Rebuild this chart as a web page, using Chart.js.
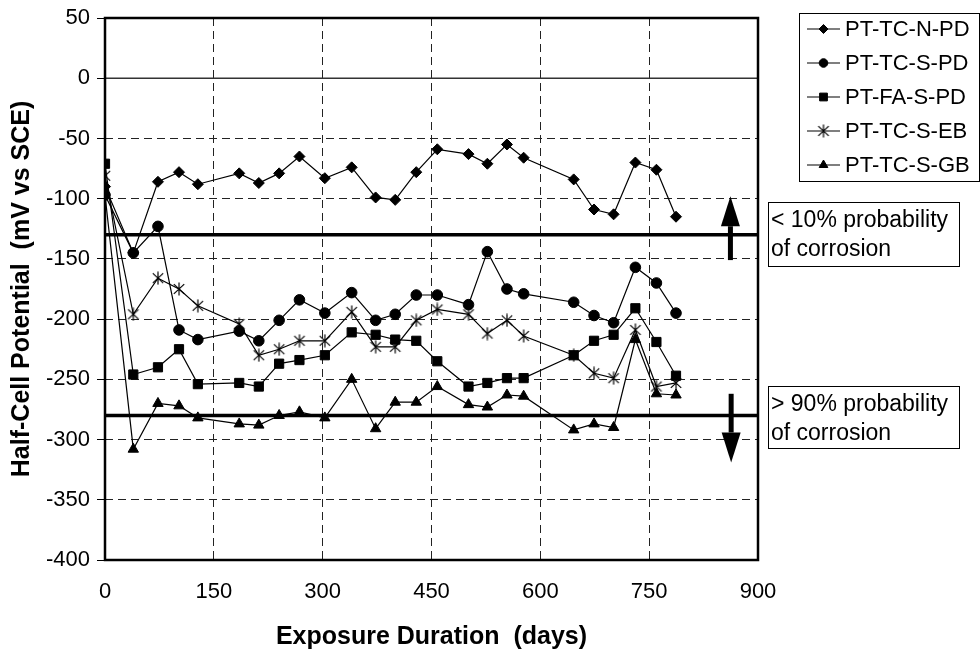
<!DOCTYPE html>
<html>
<head>
<meta charset="utf-8">
<script src="https://cdn.jsdelivr.net/npm/chart.js@4.4.1/dist/chart.umd.min.js"></script>
<style>
  html, body { margin: 0; padding: 0; background: #fff; }
  #wrap { width: 980px; height: 658px; }
</style>
</head>
<body>
<div id="wrap"><canvas id="potentialChart" width="980" height="658"></canvas></div>
<script>
// exposure duration (days) at each reading
const days = [0, 39, 73, 102, 128, 185, 212, 240, 268, 303, 340, 373, 400, 429, 458, 501, 527, 554, 577, 646, 674, 701, 731, 760, 787];

// half-cell potential (mV vs SCE) per specimen
const tcNPD = [-90, -145, -86, -78, -88, -79, -87, -79, -65, -83, -74, -99, -101, -78, -59, -63, -71, -55, -66, -84, -109, -113, -70, -76, -115];
const tcSPD = [-97, -145, -123, -209, -217, -210, -218, -201, -184, -195, -178, -201, -196, -180, -180, -188, -144, -175, -179, -186, -197, -203, -157, -170, -195];
const faSPD = [-71, -246, -240, -225, -254, -253, -256, -237, -234, -230, -211, -213, -217, -218, -235, -256, -253, -249, -249, -230, -218, -213, -191, -219, -247];
const tcSEB = [-81, -196, -166, -175, -189, -204, -230, -225, -218, -218, -194, -223, -223, -201, -192, -196, -212, -201, -214, -230, -245, -249, -209, -256, -253];
const tcSGB = [-97, -308, -270, -272, -282, -287, -288, -280, -277, -282, -250, -291, -269, -269, -256, -271, -273, -263, -264, -292, -287, -290, -217, -262, -263];

const seriesNames = ["PT-TC-N-PD", "PT-TC-S-PD", "PT-FA-S-PD", "PT-TC-S-EB", "PT-TC-S-GB"];

// corrosion probability thresholds (ASTM C876, SCE)
const lowRisk = -130;
const highRisk = -280;

const xTicks = [0, 150, 300, 450, 600, 750, 900];
const yTicks = [50, 0, -50, -100, -150, -200, -250, -300, -350, -400];

const FONT = "'Liberation Sans', Arial, sans-serif";
Chart.defaults.font.family = FONT;
Chart.defaults.color = "#000";

// Excel-style asterisk marker (x with a vertical bar)
function makeAsterisk(size) {
  const c = document.createElement("canvas");
  c.width = size;
  c.height = size;
  const g = c.getContext("2d");
  const m = size / 2, r = size / 2 - 0.5;
  g.strokeStyle = "#000";
  g.lineWidth = 1.2;
  g.beginPath();
  g.moveTo(m, m - r); g.lineTo(m, m + r);
  g.moveTo(m - r * 0.8, m - r * 0.75); g.lineTo(m + r * 0.8, m + r * 0.75);
  g.moveTo(m - r * 0.8, m + r * 0.75); g.lineTo(m + r * 0.8, m - r * 0.75);
  g.stroke();
  return c;
}
const asterisk = makeAsterisk(14);

const markers = [
  { style: "rectRot", radius: 5.5 },
  { style: "circle", radius: 5.3 },
  { style: "rect", radius: 6.5 },
  { style: asterisk, radius: 7 },
  { style: "triangle", radius: 6 },
];

const toPoints = (vals) => days.map((d, i) => ({ x: d, y: vals[i] }));
const allValues = [tcNPD, tcSPD, faSPD, tcSEB, tcSGB];

const datasets = allValues.map((vals, i) => ({
  label: seriesNames[i],
  data: toPoints(vals),
  showLine: true,
  borderColor: "#000",
  borderWidth: 1.2,
  backgroundColor: "#000",
  pointStyle: markers[i].style,
  pointRadius: markers[i].radius,
  pointBorderWidth: 1,
  pointBorderColor: "#000",
  pointBackgroundColor: "#000",
  tension: 0,
}));

// frame, zero line and threshold lines
const framePlugin = {
  id: "frame",
  beforeDatasetsDraw(chart) {
    const { ctx, chartArea: a, scales } = chart;
    const y = scales.y;
    ctx.save();
    ctx.strokeStyle = "#333";
    ctx.lineWidth = 1.5;
    ctx.beginPath();
    ctx.moveTo(a.left, y.getPixelForValue(0));
    ctx.lineTo(a.right, y.getPixelForValue(0));
    ctx.stroke();

    ctx.strokeStyle = "#000";
    ctx.lineWidth = 3.5;
    [lowRisk, highRisk].forEach((v) => {
      const py = y.getPixelForValue(v);
      ctx.beginPath();
      ctx.moveTo(a.left, py);
      ctx.lineTo(a.right, py);
      ctx.stroke();
    });

    ctx.lineWidth = 2.5;
    ctx.strokeRect(a.left, a.top, a.right - a.left, a.bottom - a.top);
    ctx.restore();
  },
};

// arrows, annotation boxes and legend
const arrows = [
  { x: 862, from: -151, to: -98 },
  { x: 863, from: -262, to: -319 },
];
const notes = [
  { lines: ["< 10% probability", "of corrosion"], box: [768, 202, 191, 64] },
  { lines: ["> 90% probability", "of corrosion"], box: [768, 386, 191, 62] },
];

const decorPlugin = {
  id: "decor",
  afterDraw(chart) {
    const { ctx, scales } = chart;
    ctx.save();
    ctx.fillStyle = "#000";
    ctx.strokeStyle = "#000";

    arrows.forEach((ar) => {
      const px = scales.x.getPixelForValue(ar.x);
      const y0 = scales.y.getPixelForValue(ar.from);
      const y1 = scales.y.getPixelForValue(ar.to);
      const dir = y1 < y0 ? 1 : -1;
      const head = 30;
      ctx.lineWidth = 5;
      ctx.beginPath();
      ctx.moveTo(px, y0);
      ctx.lineTo(px, y1 + dir * head);
      ctx.stroke();
      ctx.beginPath();
      ctx.moveTo(px, y1);
      ctx.lineTo(px - 9.5, y1 + dir * head);
      ctx.lineTo(px + 9.5, y1 + dir * head);
      ctx.closePath();
      ctx.fill();
    });

    ctx.font = "23px " + FONT;
    ctx.textBaseline = "middle";
    ctx.textAlign = "left";
    ctx.lineWidth = 1;
    notes.forEach((n) => {
      const [bx, by, bw, bh] = n.box;
      ctx.strokeRect(bx + 0.5, by + 0.5, bw, bh);
      n.lines.forEach((t, i) => ctx.fillText(t, bx + 3, by + 19 + i * 29));
    });

    // legend
    ctx.font = "22px " + FONT;
    ctx.strokeRect(799.5, 13.5, 180, 168);
    chart.data.datasets.forEach((ds, i) => {
      const ly = 29 + i * 34;
      ctx.lineWidth = 1.2;
      ctx.beginPath();
      ctx.moveTo(807, ly);
      ctx.lineTo(840, ly);
      ctx.stroke();
      ctx.lineWidth = 1;
      Chart.helpers.drawPoint(ctx, {
        pointStyle: ds.pointStyle,
        radius: ds.pointRadius - 1,
        rotation: 0,
        borderWidth: 1,
      }, 823.5, ly);
      ctx.fillStyle = "#000";
      ctx.fillText(ds.label, 845, ly + 1);
    });
    ctx.restore();
  },
};

new Chart(document.getElementById("potentialChart"), {
  type: "scatter",
  data: { datasets: datasets },
  plugins: [framePlugin, decorPlugin],
  options: {
    responsive: false,
    animation: false,
    layout: { padding: { left: 0, right: 222, top: 17, bottom: 0 } },
    plugins: {
      legend: { display: false },
      tooltip: { enabled: false },
    },
    scales: {
      x: {
        type: "linear",
        min: 0,
        max: 900,
        afterBuildTicks: (s) => { s.ticks = xTicks.map((v) => ({ value: v })); },
        ticks: { font: { size: 22 }, padding: 19, color: "#000" },
        grid: {
          color: (c) => (c.tick && (c.tick.value === 0 || c.tick.value === 900) ? "rgba(0,0,0,0)" : "#222"),
          lineWidth: 1,
          drawTicks: false,
        },
        border: { display: false, dash: [8, 5] },
        title: {
          display: true,
          text: "Exposure Duration  (days)",
          font: { size: 25, weight: "bold" },
          color: "#000",
          padding: { top: 0, bottom: 6 },
        },
        afterFit: (s) => { s.height = 98; },
      },
      y: {
        type: "linear",
        min: -400,
        max: 50,
        afterBuildTicks: (s) => { s.ticks = yTicks.map((v) => ({ value: v })); },
        ticks: { font: { size: 22, lineHeight: 1 }, padding: 7, color: "#000" },
        grid: {
          color: (c) => (c.tick && (c.tick.value === 0 || c.tick.value === 50 || c.tick.value === -400) ? "rgba(0,0,0,0)" : "#222"),
          tickColor: "#000",
          tickLength: 8,
          lineWidth: 1,
        },
        border: { display: false, dash: [8, 5] },
        title: {
          display: true,
          text: "Half-Cell Potential  (mV vs SCE)",
          font: { size: 25, weight: "bold" },
          color: "#000",
          padding: { top: 7, bottom: 0 },
        },
        afterFit: (s) => { s.width = 105; },
      },
    },
  },
});
</script>
</body>
</html>
